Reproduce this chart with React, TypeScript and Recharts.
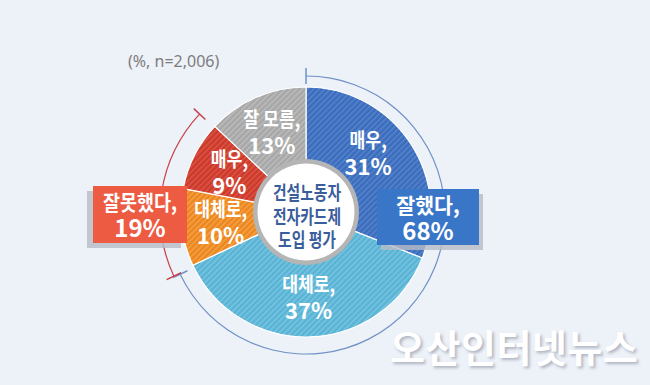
import React from 'react';
import { PieChart, Pie, Cell } from 'recharts';

// survey answers, clockwise from 12 o'clock
const sliceNames = ['매우', '대체로', '대체로', '매우', '잘 모름'];
const sliceValues = [31, 37, 10, 9, 13];
// grouped totals shown in the callout boxes
const groupNames = ['잘했다', '잘못했다', '잘 모름'];
const groupValues = [68, 19, 13];
const centerLines = ['건설노동자', '전자카드제', '도입 평가'];
const sampleNote = '(%, n=2,006)';
const watermark = '오산인터넷뉴스';

const slices = sliceNames.map((name, i) => ({ name, value: sliceValues[i] }));
const groups = groupNames.map((name, i) => ({ name, value: groupValues[i] }));
const centerData = [{ name: 'center', value: 1 }];

const FONT = '"Noto Sans CJK KR", "Noto Sans", sans-serif';
const BG = '#edf1f8';
const CX = 306;
const CY = 212;
const RADIAN = Math.PI / 180;

const SLICE_FILLS = [
  { base: '#3c6dbd', stripe: '#5785cd' },
  { base: '#58b3d5', stripe: '#7cc6e2' },
  { base: '#ec8620', stripe: '#f5a546' },
  { base: '#cc3a2c', stripe: '#dd5646' },
  { base: '#a7a7a7', stripe: '#bdbdbd' },
];

const renderSliceLabel = (props: any) => {
  const { cx, cy, midAngle, index } = props;
  const r = 86;
  let x = cx + r * Math.cos(-midAngle * RADIAN);
  let y = cy + r * Math.sin(-midAngle * RADIAN);
  if (index === 0) {
    x -= 9;
    y -= 10;
  }
  const s = slices[index];
  return (
    <g>
      <g transform={`translate(${x},${y - 6}) scale(0.86,1)`}>
        <text x={0} y={0} textAnchor="middle" fill="#fff" fontFamily={FONT} fontWeight={700} fontSize={20}>
          {s.name},
        </text>
      </g>
      <text x={x} y={y + 21} textAnchor="middle" fill="#fff" fontFamily={FONT} fontWeight={700} fontSize={22}>
        {s.value}%
      </text>
    </g>
  );
};

const renderCenter = (props: any) => {
  const { cx, cy } = props;
  return (
    <g>
      {centerLines.map((line, i) => (
        <g key={i} transform={`translate(${cx + 1},${cy - 12 + i * 23.5}) scale(0.78,1)`}>
          <text x={0} y={0} textAnchor="middle" fill="#3a5d9c" fontFamily={FONT} fontWeight={700} fontSize={19}>
            {line}
          </text>
        </g>
      ))}
    </g>
  );
};

type BoxCfg = {
  index: number;
  line: string;
  dx: number;
  dy: number;
  w: number;
  h: number;
  fill: string;
  shadowDx: number;
  scale: number;
};

const BOXES: BoxCfg[] = [
  { index: 0, line: '#6f91c6', dx: 71, dy: -23, w: 102, h: 56, fill: '#3a76c8', shadowDx: 4, scale: 0.98 },
  { index: 1, line: '#c9414a', dx: -213, dy: -26, w: 94, h: 57, fill: '#ee5b43', shadowDx: -6, scale: 0.88 },
];

const makeArcLabel = (cfg: BoxCfg) => (props: any) => {
  if (props.index !== cfg.index) return <g />;
  const { cx, cy, startAngle, endAngle, innerRadius, outerRadius } = props;
  const r = (innerRadius + outerRadius) / 2;
  const tick = (a: number) => {
    const c = Math.cos(-a * RADIAN);
    const s = Math.sin(-a * RADIAN);
    return (
      <line
        x1={cx + (r - 8) * c}
        y1={cy + (r - 8) * s}
        x2={cx + (r + 8) * c}
        y2={cy + (r + 8) * s}
        stroke={cfg.line}
        strokeWidth={1.5}
      />
    );
  };
  const g = groups[cfg.index];
  const bx = CX + cfg.dx;
  const by = CY + cfg.dy;
  const mid = bx + cfg.w / 2;
  return (
    <g>
      {tick(startAngle)}
      {tick(endAngle)}
      <rect x={bx + cfg.shadowDx} y={by + 5} width={cfg.w} height={cfg.h} fill="#b7bcc5" opacity={0.8} />
      <rect x={bx} y={by} width={cfg.w} height={cfg.h} fill={cfg.fill} />
      <g transform={`translate(${mid},${by + 24}) scale(${cfg.scale},1)`}>
        <text x={0} y={0} textAnchor="middle" fill="#fff" fontFamily={FONT} fontWeight={700} fontSize={21}>
          {g.name},
        </text>
      </g>
      <text x={mid} y={by + 51} textAnchor="middle" fill="#fff" fontFamily={FONT} fontWeight={700} fontSize={24}>
        {g.value}%
      </text>
    </g>
  );
};

export default function App() {
  return (
    <div
      style={{
        position: 'fixed',
        left: 0,
        top: 0,
        width: 650,
        height: 385,
        background: BG,
        overflow: 'hidden',
      }}
    >
      <PieChart width={650} height={385} margin={{ top: 0, right: 0, bottom: 0, left: 0 }}>
        <defs>
          {SLICE_FILLS.map((f, i) => (
            <pattern
              key={i}
              id={`hatch${i}`}
              width={4}
              height={4}
              patternUnits="userSpaceOnUse"
              patternTransform="rotate(45)"
            >
              <rect width={4} height={4} fill={f.base} />
              <rect width={1.4} height={4} fill={f.stripe} />
            </pattern>
          ))}
        </defs>
        <Pie
          data={slices}
          dataKey="value"
          nameKey="name"
          cx={CX}
          cy={CY}
          innerRadius={50}
          outerRadius={125}
          startAngle={90}
          endAngle={-270}
          stroke="#ffffff"
          strokeWidth={1.2}
          label={renderSliceLabel}
          labelLine={false}
          isAnimationActive={false}
        >
          {slices.map((_, i) => (
            <Cell key={i} fill={`url(#hatch${i})`} />
          ))}
        </Pie>
        <Pie
          data={centerData}
          dataKey="value"
          cx={CX}
          cy={CY}
          innerRadius={48}
          outerRadius={53}
          startAngle={90}
          endAngle={-270}
          fill="#b5b5b5"
          stroke="none"
          isAnimationActive={false}
        />
        <Pie
          data={centerData}
          dataKey="value"
          cx={CX}
          cy={CY}
          innerRadius={0}
          outerRadius={48.5}
          startAngle={90}
          endAngle={-270}
          fill="#ffffff"
          stroke="none"
          label={renderCenter}
          labelLine={false}
          isAnimationActive={false}
        />
        <Pie
          data={groups}
          dataKey="value"
          nameKey="name"
          cx={CX}
          cy={CY + 3}
          innerRadius={138.4}
          outerRadius={139.6}
          startAngle={90}
          endAngle={-270}
          stroke="none"
          label={makeArcLabel(BOXES[0])}
          labelLine={false}
          isAnimationActive={false}
        >
          {groups.map((_, i) => (
            <Cell key={i} fill={i === 0 ? BOXES[0].line : 'transparent'} />
          ))}
        </Pie>
        <Pie
          data={groups}
          dataKey="value"
          nameKey="name"
          cx={CX}
          cy={CY + 2}
          innerRadius={145.4}
          outerRadius={146.6}
          startAngle={90}
          endAngle={-270}
          stroke="none"
          label={makeArcLabel(BOXES[1])}
          labelLine={false}
          isAnimationActive={false}
        >
          {groups.map((_, i) => (
            <Cell key={i} fill={i === 1 ? BOXES[1].line : 'transparent'} />
          ))}
        </Pie>
      </PieChart>
      <div
        style={{
          position: 'absolute',
          left: 128,
          top: 50,
          fontFamily: '"Noto Sans", sans-serif',
          fontSize: 16,
          color: '#7d7d7d',
        }}
      >
        {sampleNote}
      </div>
      <div
        style={{
          position: 'absolute',
          left: 390,
          top: 318,
          fontFamily: FONT,
          fontWeight: 700,
          fontSize: 38,
          letterSpacing: 0.5,
          color: '#ffffff',
          textShadow: '2px 2px 3px rgba(60,70,90,0.35)',
          whiteSpace: 'nowrap',
        }}
      >
        {watermark}
      </div>
    </div>
  );
}
